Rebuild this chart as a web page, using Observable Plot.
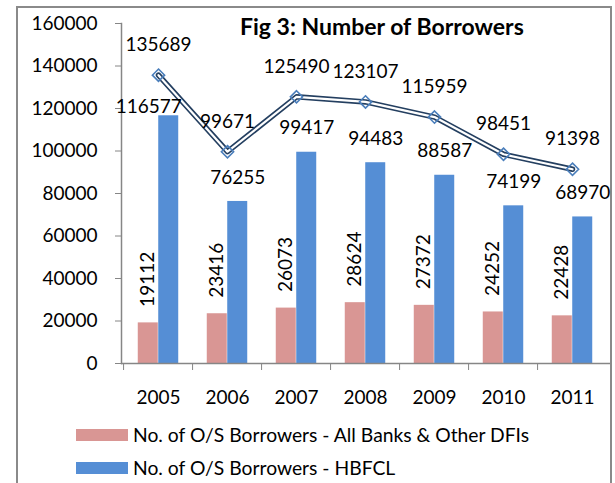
<!DOCTYPE html>
<html>
<head>
<meta charset="utf-8">
<script src="https://cdn.jsdelivr.net/npm/d3@7"></script>
<script src="https://cdn.jsdelivr.net/npm/@observablehq/plot@0.6"></script>
<style>
  html, body { margin: 0; padding: 0; background: #fff; }
  #wrap { position: relative; width: 615px; height: 483px; overflow: hidden; font-family: Lato, "Open Sans", sans-serif; color: #000; }
  #frame { position: absolute; left: 16px; top: 6px; width: 596px; height: 600px; border: 2px solid #8a8a8a; box-sizing: border-box; }
  #chart { position: absolute; left: 0; top: 0; }
  #title { position: absolute; left: 240px; top: 15px; font-size: 23px; font-weight: bold; line-height: 23px; white-space: nowrap; }
  .leg { position: absolute; left: 76px; display: flex; align-items: center; font-size: 19.3px; white-space: nowrap; }
  .sw { width: 52px; height: 12px; margin-right: 5px; }
</style>
</head>
<body>
<div id="wrap">
  <div id="frame"></div>
  <div id="chart"></div>
  <div id="title">Fig 3: Number of Borrowers</div>
  <div class="leg" style="top:423px"><div class="sw" style="background:#D99694"></div><span>No. of O/S Borrowers - All Banks &amp; Other DFIs</span></div>
  <div class="leg" style="top:456px"><div class="sw" style="background:#558ED5"></div><span>No. of O/S Borrowers - HBFCL</span></div>
</div>
<script>
const years = ["2005", "2006", "2007", "2008", "2009", "2010", "2011"];
const allBanks = [19112, 23416, 26073, 28624, 27372, 24252, 22428];
const hbfcl = [116577, 76255, 99417, 94483, 88587, 74199, 68970];
const total = [135689, 99671, 125490, 123107, 115959, 98451, 91398];
const yTicks = [0, 20000, 40000, 60000, 80000, 100000, 120000, 140000, 160000];

const rows = years.map((year, i) => ({year, all: allBanks[i], hbfcl: hbfcl[i], total: total[i]}));

const width = 615, height = 415;
const mL = 121, mR = 5;
const pad = 0.707;
const step = (width - mL - mR) / years.length;
const bw = step * (1 - pad);
const fs = 19;

const gray = "#868686";

const chart = Plot.plot({
  width, height,
  marginLeft: mL, marginRight: mR, marginTop: 23, marginBottom: 52,
  style: {fontFamily: "Lato, 'Open Sans', sans-serif", fontSize: fs + "px", color: "#000", background: "transparent", overflow: "visible"},
  x: {domain: years, paddingInner: pad, paddingOuter: pad / 2, label: null},
  y: {domain: [0, 160000], label: null},
  marks: [
    Plot.barY(rows, {x: "year", y: "all", fill: "#D99694", dx: -bw / 2}),
    Plot.barY(rows, {x: "year", y: "hbfcl", fill: "#558ED5", dx: bw / 2}),
    Plot.ruleY([0], {stroke: gray, strokeWidth: 1.5}),
    Plot.frame({anchor: "left", stroke: gray, strokeWidth: 1.5}),
    Plot.axisY({ticks: yTicks, tickSize: 6, tickPadding: 18, tickFormat: d => String(d), stroke: gray, fill: "#000", label: null, fontSize: fs}),
    Plot.axisX({ticks: years, tickSize: 7, tickFormat: null, dx: -step / 2, stroke: gray, label: null}),
    Plot.axisX({ticks: years, tickSize: 0, tickPadding: 27, fill: "#000", label: null, fontSize: fs}),
    Plot.line(rows, {x: "year", y: "total", stroke: "#243F60", strokeWidth: 5.5}),
    Plot.line(rows, {x: "year", y: "total", stroke: "#fff", strokeWidth: 2.2}),
    Plot.dot(rows, {x: "year", y: "total", symbol: "diamond2", r: 5.5, stroke: "#4A7EBB", strokeWidth: 1.6, fill: "none"}),
    Plot.text(rows, {x: "year", y: "total", text: d => String(d.total), dy: -30, fontSize: fs, fill: "#000"}),
    Plot.text(rows.slice(1), {x: "year", y: "hbfcl", text: d => String(d.hbfcl), dx: bw / 2, dy: -24, fontSize: fs, fill: "#000"}),
    Plot.text(rows.slice(0, 1), {x: "year", y: "hbfcl", text: d => String(d.hbfcl), dx: bw / 2 - 20, dy: -9, fontSize: fs, fill: "#000"}),
    Plot.text(rows, {x: "year", y: "all", text: d => String(d.all), rotate: -90, textAnchor: "start", dx: -bw / 2, dy: -16, fontSize: fs, fill: "#000"})
  ]
});
document.getElementById("chart").appendChild(chart);
</script>
</body>
</html>
